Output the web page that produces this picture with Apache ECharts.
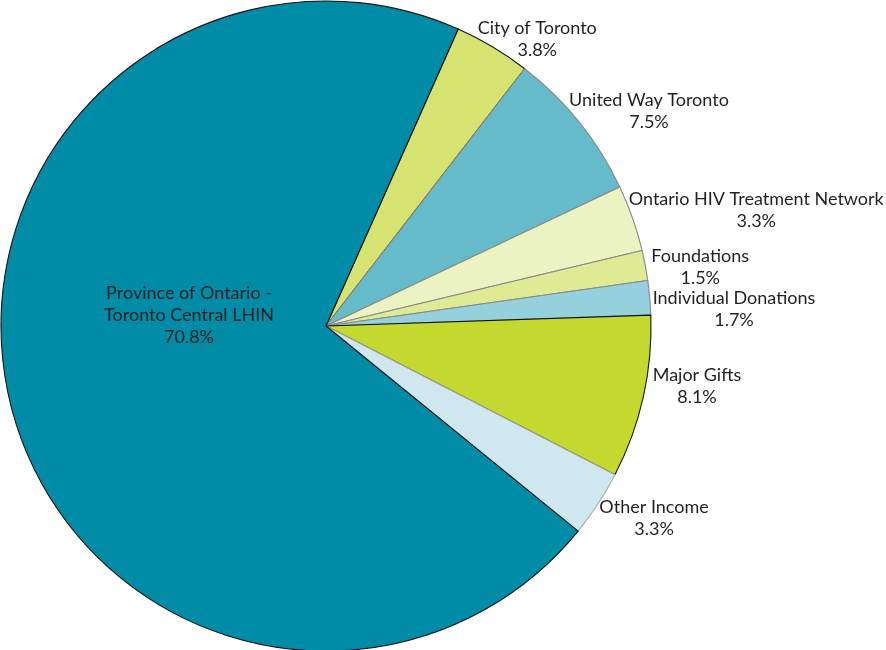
<!DOCTYPE html>
<html>
<head>
<meta charset="utf-8">
<script src="https://cdn.jsdelivr.net/npm/echarts@6/dist/echarts.min.js"></script>
<style>
html,body{margin:0;padding:0;background:#fff;}
#chart{width:886px;height:650px;}
</style>
</head>
<body>
<div id="chart"></div>
<script>
const categories = ['City of Toronto','United Way Toronto','Ontario HIV Treatment Network','Foundations','Individual Donations','Major Gifts','Other Income','Province of Ontario -\nToronto Central LHIN'];
const values = [3.8, 7.5, 3.3, 1.5, 1.7, 8.1, 3.3, 70.8];
const colors = ['#d6e370','#66bbcb','#ecf3c3','#dfea95','#95d1dc','#c3d92f','#cfe7ee','#008ca7'];
const borders = ['#111','#888','#888','#888','#888','#111','#aaa','#111'];
// small label nudges (style only), relative to the library's own label placement
const labelNudge = [[-22,-4],[-15,-9],[-8,-7],[2,2],[-2,-2],[5,-12],[-7,12],[0,0]];

const chart = echarts.init(document.getElementById('chart'));
const data = categories.map((n,i)=>{
  const item = {name:n, value:values[i], itemStyle:{color:colors[i], borderColor:borders[i], borderWidth:1.1}};
  if (i === categories.length-1) {
    item.label = {position:'inside', offset:[24,-49]};
  }
  return item;
});
chart.setOption({
  animation:false,
  series:[{
    type:'pie',
    center:[326,326],
    radius:[0,325],
    startAngle:66,
    clockwise:true,
    avoidLabelOverlap:true,
    data:data,
    label:{
      show:true,
      position:'outside',
      formatter:p=>p.name+'\n'+p.value.toFixed(1)+'%',
      fontFamily:'Lato',
      fontSize:18,
      lineHeight:22,
      color:'#231f20',
      align:'center',
      overflow:'none'
    },
    labelLine:{show:false, length:4, length2:0},
    labelLayout:function(p){
      const nd = labelNudge[p.dataIndex] || [0,0];
      return {x:p.labelRect.x+p.labelRect.width/2+nd[0], y:p.labelRect.y+p.labelRect.height/2+nd[1], align:'center', verticalAlign:'middle'};
    },
    emphasis:{disabled:true}
  }]
});
</script>
</body>
</html>
